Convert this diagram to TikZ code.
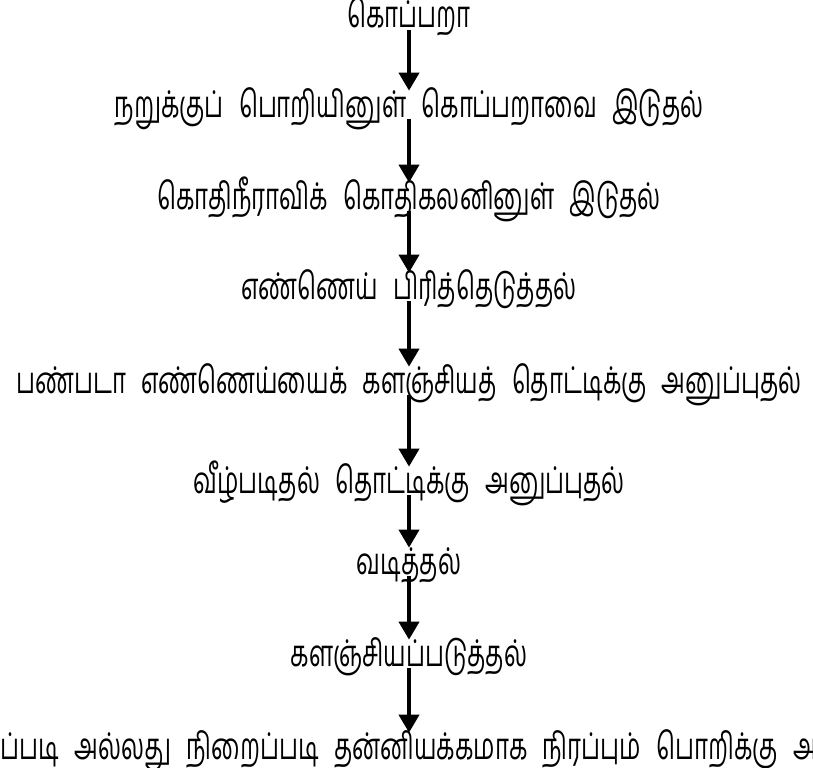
\documentclass[tikz,border=0pt]{standalone}
\usepackage{fontspec}
\newfontfamily\tamilfont[Script=Tamil, FakeStretch=0.65, WordSpace=2.6]{Hind Madurai}
\usepackage{tikz}
\usetikzlibrary{positioning, arrows.meta}

\begin{document}
\begin{tikzpicture}[x=0.02cm, y=-0.02cm]
        \tikzstyle{stage} = [anchor=base, inner sep=0pt, text height=0.4cm, text depth=0.04cm, font=\tamilfont\fontsize{21}{24}\selectfont]
        \tikzstyle{arrow} = [line width=2.2pt, -{Triangle[width=0.4cm, length=0.36cm]}, shorten >=0.12cm]

        \useasboundingbox (0,0) rectangle (813,767);

        \node [stage] (copra) at (409,28) {கொப்பறா};
        \node [stage] (press) at (409,117) {நறுக்குப் பொறியினுள் கொப்பறாவை இடுதல்};
        \node [stage] (boil) at (409,209) {கொதிநீராவிக் கொதிகலனினுள் இடுதல்};
        \node [stage] (extract) at (409,299) {எண்ணெய் பிரித்தெடுத்தல்};
        \node [stage] (crude) at (409,393) {பண்படா எண்ணெய்யைக் களஞ்சியத் தொட்டிக்கு அனுப்புதல்};
        \node [stage] (settle) at (409,493) {வீழ்படிதல் தொட்டிக்கு அனுப்புதல்};
        \node [stage] (filter) at (409,574) {வடித்தல்};
        \node [stage] (store) at (409,666) {களஞ்சியப்படுத்தல்};
        \node [stage] (fill) at (409,759) {ப்படி அல்லது நிறைப்படி தன்னியக்கமாக நிரப்பும் பொறிக்கு அ};

        \draw [arrow] (copra.south) -- (press.north);
        \draw [arrow] (press.south) -- (boil.north);
        \draw [arrow] (boil.south) -- (extract.north);
        \draw [arrow] (extract.south) -- (crude.north);
        \draw [arrow] (crude.south) -- (settle.north);
        \draw [arrow] (settle.south) -- (filter.north);
        \draw [arrow] (filter.south) -- (store.north);
        \draw [arrow] (store.south) -- (fill.north);
    \end{tikzpicture}
\end{document}
